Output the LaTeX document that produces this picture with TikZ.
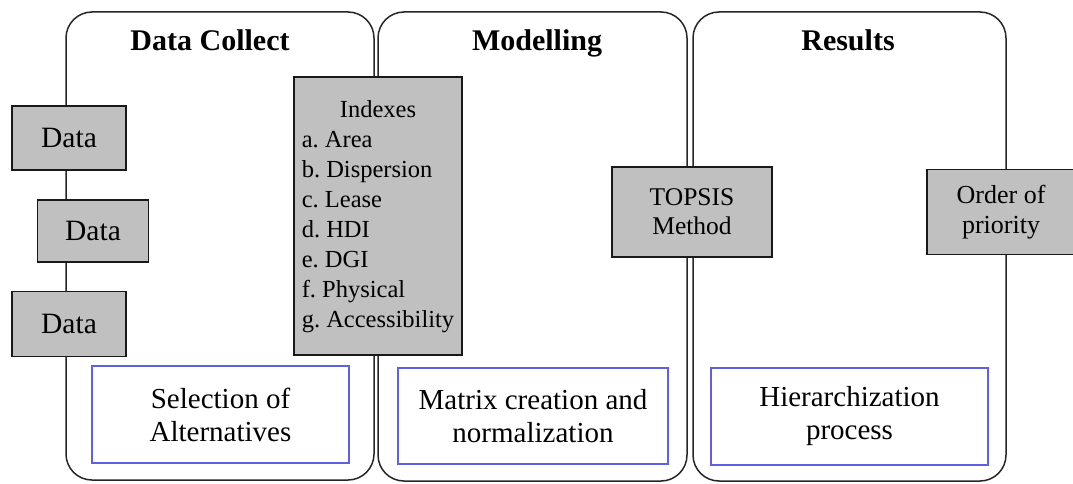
\documentclass[tikz,border=0pt]{standalone}
\usepackage{fontspec}
\setmainfont{Liberation Serif}
\frenchspacing
\definecolor{boxgray}{RGB}{192,192,192}
\definecolor{frameblue}{RGB}{96,96,228}
\tikzset{
  panel/.style={draw=black!85,line width=1.5pt,rounded corners=26pt},
  graybox/.style={draw=black!90,line width=1.5pt,fill=boxgray,inner sep=0pt},
  bluebox/.style={draw=frameblue,line width=1.2pt,fill=white,inner sep=0pt,align=center,
    font=\fontsize{29}{33}\selectfont},
  title/.style={anchor=base,font=\fontsize{30}{34}\selectfont\bfseries}
}

\begin{document}
\begin{tikzpicture}[x=1pt,y=-1pt]
\useasboundingbox (0,0) rectangle (1073,484);

% the three stages
\draw[panel] (66,12) rectangle (374,480);
\draw[panel] (378,12) rectangle (687,481);
\draw[panel] (693,12) rectangle (1006,481);

\node (collect) at (210,51) [title] {Data Collect};
\node (model) at (537,51) [title] {Modelling};
\node (result) at (848,51) [title] {Results};

% inputs
\node (data1) at (69,138) [graybox,minimum width=114pt,minimum height=64pt,
  font=\fontsize{29.5}{33}\selectfont] {Data};
\node (data2) at (93,231) [graybox,minimum width=111pt,minimum height=62pt,
  font=\fontsize{29.5}{33}\selectfont] {Data};
\node (data3) at (69,324) [graybox,minimum width=114pt,minimum height=65pt,
  font=\fontsize{29.5}{33}\selectfont] {Data};

\node (indexes) at (378,216) [graybox,minimum width=168pt,minimum height=278pt,
  font=\fontsize{24.5}{30}\selectfont]
  {\begin{tabular}{@{}l@{}}
   \multicolumn{1}{c}{Indexes}\\
   a. Area\\
   b. Dispersion\\
   c. Lease\\
   d. HDI\\
   e. DGI\\
   f. Physical\\
   g. Accessibility
   \end{tabular}};

\node (topsis) at (692,212) [graybox,minimum width=160pt,minimum height=90pt,align=center,
  font=\fontsize{25.5}{29}\selectfont] {TOPSIS\\Method};
\node (order) at (1001,212) [graybox,minimum width=148pt,minimum height=85pt,align=center,
  font=\fontsize{26}{30}\selectfont] {Order of\\priority};

% outputs
\node (select) at (220.5,414.5) [bluebox,minimum width=257pt,minimum height=97pt]
  {Selection of\\Alternatives};
\node (matrix) at (533,416) [bluebox,minimum width=270pt,minimum height=96pt]
  {Matrix creation and\\normalization};
\node (hier) at (849.5,416.5) [bluebox,minimum width=277pt,minimum height=97pt]
  {Hierarchization\\process};

\end{tikzpicture}
\end{document}
